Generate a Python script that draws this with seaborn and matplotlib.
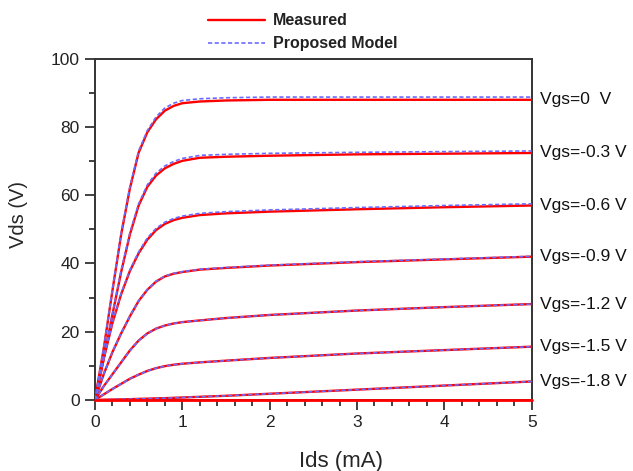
import matplotlib
matplotlib.use("Agg")
import matplotlib.pyplot as plt
import matplotlib.transforms as mtransforms
from matplotlib.ticker import MultipleLocator
import seaborn as sns

# Drain current sample points (mA)
ids = [0, 0.1, 0.2, 0.3, 0.4, 0.5, 0.6, 0.7, 0.8, 0.9, 1.0, 1.2, 1.5, 2, 3, 4, 5]

# Gate bias labels, top curve first
vgs_labels = ["Vgs=0  V", "Vgs=-0.3 V", "Vgs=-0.6 V", "Vgs=-0.9 V",
              "Vgs=-1.2 V", "Vgs=-1.5 V", "Vgs=-1.8 V"]

# Measured Vds (V)
meas_vgs_0_0 = [0, 15, 32, 48.5, 62, 72.5, 78.5, 82.3, 84.8, 86.2, 87, 87.5, 87.8, 88, 88, 88, 88]
meas_vgs_0_3 = [0, 12, 25, 37.5, 48.5, 57, 62.5, 65.8, 67.9, 69.2, 70.1, 71, 71.3, 71.6, 72, 72.2, 72.4]
meas_vgs_0_6 = [0, 12, 22.5, 31, 37.8, 43, 47, 49.8, 51.6, 52.7, 53.4, 54.2, 54.7, 55.2, 55.9, 56.5, 57]
meas_vgs_0_9 = [0, 7.5, 14, 19.5, 24.5, 29, 32.3, 34.7, 36.2, 37, 37.5, 38.2, 38.7, 39.4, 40.4, 41.2, 42]
meas_vgs_1_2 = [0, 4, 7.5, 11, 14.5, 17.4, 19.5, 20.9, 21.8, 22.4, 22.8, 23.3, 24, 24.9, 26.2, 27.2, 28.1]
meas_vgs_1_5 = [0, 1.6, 3.2, 4.7, 6.2, 7.4, 8.5, 9.3, 9.9, 10.3, 10.6, 11, 11.5, 12.3, 13.6, 14.6, 15.6]
meas_vgs_1_8 = [0, 0.05, 0.1, 0.15, 0.2, 0.3, 0.35, 0.45, 0.5, 0.6, 0.7, 0.9, 1.2, 1.8, 3, 4.2, 5.4]
meas_cutoff = [0, 0, 0, 0, 0, 0, 0, 0, 0, 0, 0, 0, 0, 0, 0, 0, 0]

# Proposed model Vds (V)
model_vgs_0_0 = [0, 15.3, 32.5, 49, 62.5, 73, 79, 83, 85.6, 87, 87.8, 88.3, 88.6, 88.8, 88.8, 88.8, 88.8]
model_vgs_0_3 = [0, 12.2, 25.3, 38, 49, 57.5, 63.1, 66.5, 68.6, 69.9, 70.8, 71.7, 72, 72.3, 72.6, 72.8, 73]
model_vgs_0_6 = [0, 12.1, 22.7, 31.3, 38.1, 43.4, 47.5, 50.3, 52.1, 53.2, 53.9, 54.7, 55.2, 55.7, 56.4, 57, 57.5]
model_vgs_0_9 = [0, 7.6, 14.1, 19.6, 24.6, 29.1, 32.4, 34.8, 36.3, 37.1, 37.6, 38.3, 38.8, 39.5, 40.5, 41.3, 42.1]
model_vgs_1_2 = [0, 4, 7.5, 11, 14.5, 17.4, 19.5, 20.9, 21.8, 22.4, 22.8, 23.3, 24, 24.9, 26.2, 27.2, 28.1]
model_vgs_1_5 = [0, 1.6, 3.2, 4.7, 6.2, 7.4, 8.5, 9.3, 9.9, 10.3, 10.6, 11, 11.5, 12.3, 13.6, 14.6, 15.6]
model_vgs_1_8 = [0, 0.05, 0.1, 0.15, 0.2, 0.3, 0.35, 0.45, 0.5, 0.6, 0.7, 0.9, 1.2, 1.8, 3, 4.2, 5.4]

measured = [meas_vgs_0_0, meas_vgs_0_3, meas_vgs_0_6, meas_vgs_0_9,
            meas_vgs_1_2, meas_vgs_1_5, meas_vgs_1_8]
model = [model_vgs_0_0, model_vgs_0_3, model_vgs_0_6, model_vgs_0_9,
         model_vgs_1_2, model_vgs_1_5, model_vgs_1_8]

sns.set_style("ticks")
plt.rcParams["font.family"] = ["Liberation Sans", "DejaVu Sans"]

fig = plt.figure(figsize=(6.33, 4.71), dpi=100)
ax = fig.add_axes([0.150, 0.151, 0.690, 0.724])

red = "#ff0000"
blue = "#6b6bff"

for i, ys in enumerate(measured):
    sns.lineplot(x=ids, y=ys, ax=ax, color=red, linewidth=1.7,
                 sort=False, estimator=None,
                 label="Measured" if i == 0 else None, zorder=3)
sns.lineplot(x=ids, y=meas_cutoff, ax=ax, color=red, linewidth=2.0,
             sort=False, estimator=None, zorder=6, clip_on=False)
for i, ys in enumerate(model):
    sns.lineplot(x=ids, y=ys, ax=ax, color=blue, linewidth=1.2,
                 linestyle=(0, (2.5, 1.5)), sort=False, estimator=None,
                 label="Proposed Model" if i == 0 else None, zorder=4)

ax.set_xlim(0, 5)
ax.set_ylim(0, 100)
ax.xaxis.set_major_locator(MultipleLocator(1))
ax.xaxis.set_minor_locator(MultipleLocator(0.2))
ax.yaxis.set_major_locator(MultipleLocator(20))
ax.yaxis.set_minor_locator(MultipleLocator(10))
ax.tick_params(which="both", direction="out", top=False, right=False,
               color="#333333", width=1.3)
ax.tick_params(which="major", length=7, labelsize=12.5, pad=4,
               labelcolor="#222222")
ax.tick_params(which="minor", length=4)
for s in ax.spines.values():
    s.set_color("#333333")
    s.set_linewidth(1.4)

ax.set_xlabel("Ids (mA)", fontsize=16)
ax.set_ylabel("Vds (V)", fontsize=14.5)
ax.xaxis.set_label_coords(0.563, -0.182)
ax.yaxis.set_label_coords(-0.174, 0.545)
ax.xaxis.label.set_va("center")
ax.yaxis.label.set_va("center")

# Gate-bias labels at the right-hand end of each curve
trans = mtransforms.blended_transform_factory(ax.transAxes, ax.transData)
for lab, ys in zip(vgs_labels, measured):
    ax.text(1.02, ys[-1], lab, transform=trans, fontsize=12.5,
            ha="left", va="center", color="#111111")

leg = ax.legend(loc="center", bbox_to_anchor=(0.476, 1.078), frameon=False,
                prop={"size": 11.5, "weight": "bold"}, handlelength=3.6,
                labelspacing=0.5, borderaxespad=0, handletextpad=0.5)
for t in leg.get_texts():
    t.set_color("#222222")

fig.savefig("out.png", dpi=100)
